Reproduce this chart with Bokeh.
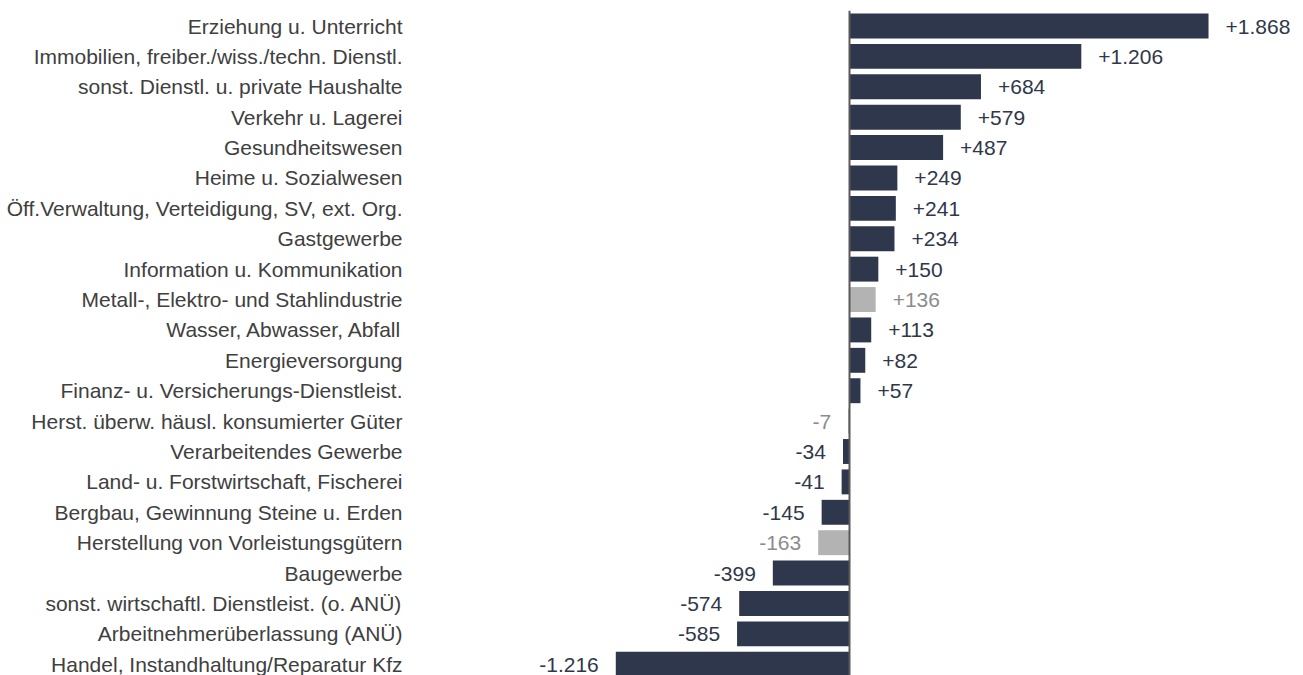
from bokeh.plotting import figure
from bokeh.models import ColumnDataSource, Range1d, FixedTicker, Span
from bokeh.core.properties import value
from bokeh.embed import file_html
from bokeh.resources import INLINE

categories = [
    "Erziehung u. Unterricht",
    "Immobilien, freiber./wiss./techn. Dienstl.",
    "sonst. Dienstl. u. private Haushalte",
    "Verkehr u. Lagerei",
    "Gesundheitswesen",
    "Heime u. Sozialwesen",
    "Öff.Verwaltung, Verteidigung, SV, ext. Org.",
    "Gastgewerbe",
    "Information u. Kommunikation",
    "Metall-, Elektro- und Stahlindustrie",
    "Wasser, Abwasser, Abfall",
    "Energieversorgung",
    "Finanz- u. Versicherungs-Dienstleist.",
    "Herst. überw. häusl. konsumierter Güter",
    "Verarbeitendes Gewerbe",
    "Land- u. Forstwirtschaft, Fischerei",
    "Bergbau, Gewinnung Steine u. Erden",
    "Herstellung von Vorleistungsgütern",
    "Baugewerbe",
    "sonst. wirtschaftl. Dienstleist. (o. ANÜ)",
    "Arbeitnehmerüberlassung (ANÜ)",
    "Handel, Instandhaltung/Reparatur Kfz",
]
values = [1868, 1206, 684, 579, 487, 249, 241, 234, 150, 136, 113, 82, 57,
          -7, -34, -41, -145, -163, -399, -574, -585, -1216]
# sub-branches of manufacturing shown in grey
is_sub = [False, False, False, False, False, False, False, False, False, True,
          False, False, False, True, False, False, False, True, False, False,
          False, False]

DARK = "#2f374d"
GREY_BAR = "#b3b3b3"
DARK_TXT = "#30374a"
GREY_TXT = "#8c8c8c"
FONT = "Liberation Sans"


def fmt(v):
    s = f"{abs(v):,}".replace(",", ".")
    return ("+" if v > 0 else "-") + s


n = len(categories)
ys = [n - 1 - i for i in range(n)]
bar_colors = [GREY_BAR if s else DARK for s in is_sub]
txt_colors = [GREY_TXT if s else DARK_TXT for s in is_sub]
labels = [fmt(v) for v in values]

src = ColumnDataSource(dict(y=ys, v=values, bc=bar_colors))
pos_idx = [i for i, v in enumerate(values) if v > 0]
neg_idx = [i for i, v in enumerate(values) if v <= 0]
src_pos = ColumnDataSource(dict(y=[ys[i] for i in pos_idx], v=[values[i] for i in pos_idx],
                                tc=[txt_colors[i] for i in pos_idx], lab=[labels[i] for i in pos_idx]))
src_neg = ColumnDataSource(dict(y=[ys[i] for i in neg_idx], v=[values[i] for i in neg_idx],
                                tc=[txt_colors[i] for i in neg_idx], lab=[labels[i] for i in neg_idx]))

p = figure(width=1303, height=675, output_backend="svg", toolbar_location=None,
           x_range=Range1d(-2273.7, 2362.1), y_range=Range1d(-0.37, 21.51),
           x_axis_location=None, min_border_left=412, min_border_right=0,
           min_border_top=10, min_border_bottom=0)
p.outline_line_color = None
p.xgrid.visible = False
p.ygrid.visible = False
p.background_fill_color = "white"
p.border_fill_color = "white"

p.hbar(y="y", left=0, right="v", height=0.82, source=src, fill_color="bc", line_color=None)

zero = Span(location=0, dimension="height", line_color="#595959", line_width=2)
p.add_layout(zero)

p.text(x="v", y="y", text="lab", source=src_pos, x_offset=17, y_offset=0.5,
       text_align="left", text_baseline="middle", text_color="tc",
       text_font=value(FONT), text_font_size="21px")
p.text(x="v", y="y", text="lab", source=src_neg, x_offset=-17, y_offset=0.5,
       text_align="right", text_baseline="middle", text_color="tc",
       text_font=value(FONT), text_font_size="21px")

ax = p.yaxis[0]
ax.ticker = FixedTicker(ticks=ys)
ax.major_label_overrides = {y: c for y, c in zip(ys, categories)}
ax.axis_line_color = None
ax.major_tick_line_color = None
ax.minor_tick_line_color = None
ax.major_tick_out = 0
ax.major_tick_in = 0
ax.major_label_standoff = 10
ax.major_label_text_font = FONT
ax.major_label_text_font_size = "21px"
ax.major_label_text_color = "#404040"

open("out.html", "w").write(file_html(p, INLINE))
